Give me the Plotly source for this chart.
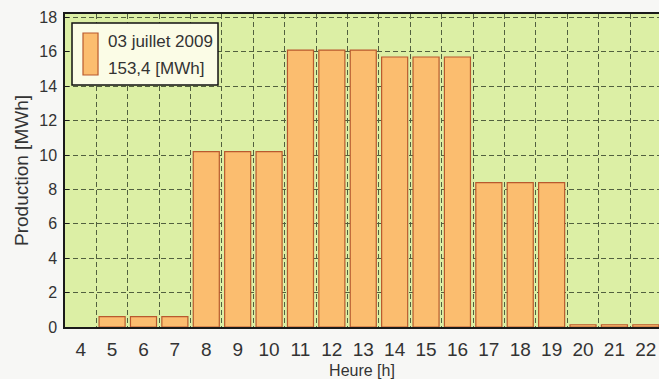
import plotly.graph_objects as go

# Hourly production on 3 July 2009
hours = list(range(4, 23))
production_mwh = [0.0, 0.6, 0.6, 0.6, 10.2, 10.2, 10.2, 16.1, 16.1, 16.1,
                  15.7, 15.7, 15.7, 8.4, 8.4, 8.4, 0.13, 0.13, 0.13]
y_ticks = list(range(0, 19, 2))
legend_lines = ["03 juillet 2009", "153,4 [MWh]"]

FONT = "Liberation Sans, Arial, sans-serif"
TEXT = "#333333"
GRID = "#52603f"
BAR_FILL = "#fbbd6f"
BAR_EDGE = "#b9592e"
DASH = "5px,3px"

# hours without production get no outline either
edge_widths = [1.2 if v > 0 else 0 for v in production_mwh]

fig = go.Figure()
fig.add_trace(go.Bar(
    x=hours, y=production_mwh,
    marker=dict(color=BAR_FILL, line=dict(color=BAR_EDGE, width=edge_widths)),
    showlegend=False,
))

fig.update_layout(
    width=659, height=379,
    margin=dict(l=65, r=0, t=14, b=52),
    paper_bgcolor="#f7f7f5",
    plot_bgcolor="#dcefa5",
    bargap=0.17,
    font=dict(family=FONT, color=TEXT),
    showlegend=False,
)

fig.update_xaxes(
    range=[3.5, 22.42],
    tickmode="array", tickvals=hours, ticktext=[str(h) for h in hours],
    tickfont=dict(size=19, color=TEXT),
    ticks="", ticklabelstandoff=4,
    showgrid=False,
    minor=dict(tick0=3.5, dtick=1, showgrid=True, gridcolor=GRID,
               griddash=DASH, gridwidth=1),
    showline=True, linecolor="#1a1a1a", linewidth=1.5, mirror=True,
    zeroline=False,
    title=dict(text="Heure [h]", font=dict(size=16, color=TEXT), standoff=7),
)

fig.update_yaxes(
    range=[0, 18.2],
    tickmode="array", tickvals=y_ticks,
    tickfont=dict(size=16, color=TEXT),
    ticks="inside", ticklen=4, tickcolor="#1a1a1a",
    ticklabelstandoff=3,
    showgrid=True, gridcolor=GRID, griddash=DASH, gridwidth=1,
    showline=True, linecolor="#1a1a1a", linewidth=1.5,
    zeroline=False,
    title=dict(text="Production [MWh]", font=dict(size=19, color=TEXT), standoff=6),
)

# Legend box with a tall swatch and two text lines
fig.add_shape(type="rect", xref="x domain", yref="y domain",
              x0=0.0118, x1=0.2576, y0=0.7732, y1=0.9712,
              fillcolor="#fbfce6", line=dict(color="#111111", width=1.5),
              layer="above")
fig.add_shape(type="rect", xref="x domain", yref="y domain",
              x0=0.0303, x1=0.0556, y0=0.8051, y1=0.9393,
              fillcolor=BAR_FILL, line=dict(color=BAR_EDGE, width=1.2),
              layer="above")
for line_text, yd in zip(legend_lines, [0.912, 0.827]):
    fig.add_annotation(xref="x domain", yref="y domain", x=0.069, y=yd,
                       text=line_text, showarrow=False, xanchor="left",
                       yanchor="middle", font=dict(size=17, color=TEXT))

fig.write_html("out.html")
